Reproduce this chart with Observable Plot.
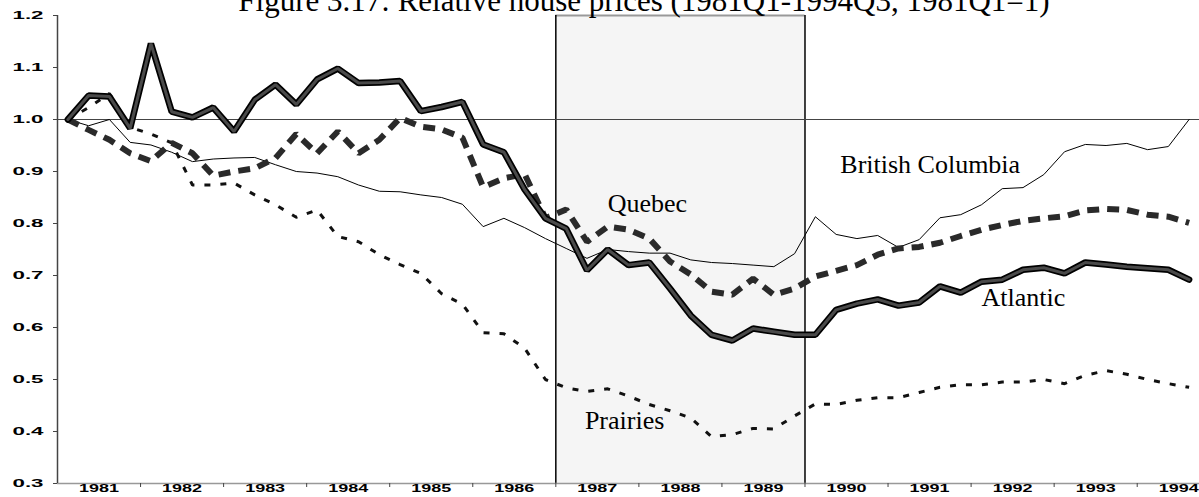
<!DOCTYPE html>
<html><head><meta charset="utf-8">
<script src="https://cdn.jsdelivr.net/npm/d3@7"></script>
<script src="https://cdn.jsdelivr.net/npm/@observablehq/plot@0.6"></script>
<style>
body{margin:0;background:#fff;}
#chart{position:relative;width:1199px;height:497px;overflow:hidden;background:#fff}
</style>
</head><body><div id="chart"></div>
<script>
const title = "Figure 3.17: Relative house prices (1981Q1-1994Q3, 1981Q1=1)";
const quarters = [
 "1981Q1","1981Q2","1981Q3","1981Q4","1982Q1","1982Q2","1982Q3","1982Q4",
 "1983Q1","1983Q2","1983Q3","1983Q4","1984Q1","1984Q2","1984Q3","1984Q4",
 "1985Q1","1985Q2","1985Q3","1985Q4","1986Q1","1986Q2","1986Q3","1986Q4",
 "1987Q1","1987Q2","1987Q3","1987Q4","1988Q1","1988Q2","1988Q3","1988Q4",
 "1989Q1","1989Q2","1989Q3","1989Q4","1990Q1","1990Q2","1990Q3","1990Q4",
 "1991Q1","1991Q2","1991Q3","1991Q4","1992Q1","1992Q2","1992Q3","1992Q4",
 "1993Q1","1993Q2","1993Q3","1993Q4","1994Q1","1994Q2","1994Q3"];
const years = [1981,1982,1983,1984,1985,1986,1987,1988,1989,1990,1991,1992,1993,1994];
const yTicks = [0.3,0.4,0.5,0.6,0.7,0.8,0.9,1.0,1.1,1.2];

const atlantic = [1.000,1.046,1.044,0.983,1.146,1.015,1.004,1.023,0.977,1.038,1.067,1.029,1.077,1.098,1.070,1.071,1.074,1.016,1.024,1.034,
 0.952,0.937,0.865,0.810,0.790,0.710,0.750,0.720,0.725,0.675,0.623,0.586,0.575,0.598,0.592,0.586,0.586,0.634,0.646,0.654,
 0.642,0.648,0.679,0.667,0.688,0.692,0.711,0.715,0.704,0.725,0.721,0.717,0.714,0.711,0.692];
const quebec = [1.000,0.980,0.961,0.935,0.920,0.955,0.935,0.892,0.900,0.906,0.926,0.972,0.935,0.977,0.935,0.961,1.003,0.986,0.981,0.965,
 0.870,0.887,0.895,0.810,0.827,0.765,0.794,0.788,0.771,0.727,0.702,0.669,0.663,0.694,0.663,0.675,0.698,0.709,0.720,0.740,
 0.752,0.755,0.763,0.776,0.788,0.797,0.805,0.810,0.814,0.825,0.828,0.826,0.817,0.813,0.801];
const prairies = [1.000,1.023,1.050,0.985,0.972,0.955,0.874,0.874,0.878,0.855,0.836,0.812,0.826,0.775,0.765,0.740,0.721,0.704,0.665,0.645,
 0.590,0.588,0.560,0.500,0.484,0.477,0.482,0.468,0.452,0.440,0.426,0.390,0.394,0.406,0.405,0.430,0.453,0.452,0.460,0.465,
 0.465,0.475,0.485,0.490,0.490,0.495,0.495,0.500,0.492,0.508,0.517,0.510,0.500,0.492,0.485];
const britishColumbia = [1.000,0.988,1.000,0.956,0.951,0.937,0.919,0.924,0.926,0.927,0.913,0.900,0.897,0.890,0.874,0.862,0.861,0.855,0.850,0.837,
 0.794,0.810,0.792,0.771,0.752,0.733,0.750,0.746,0.743,0.743,0.730,0.725,0.723,0.720,0.717,0.742,0.813,0.779,0.771,0.777,
 0.754,0.769,0.811,0.817,0.836,0.867,0.869,0.894,0.938,0.952,0.950,0.954,0.942,0.948,1.000];

const shadeFrom = "1987Q1", shadeTo = "1989Q4";
const labelNames = ["British Columbia","Quebec","Atlantic","Prairies"];
const labelQuarterPos = [37.2, 26.0, 44.0, 24.9];
const labelValuePos = [0.897, 0.822, 0.642, 0.404];

const rows = s => s.map((v,i)=>({q:i, v}));
const qi = q => quarters.indexOf(q);
const yearCenters = years.map(y=>qi(y+"Q1")+1.5);
const yearBounds = years.slice(1).map(y=>qi(y+"Q1")-0.5);
const labels = labelNames.map((n,i)=>({n, q:labelQuarterPos[i], v:labelValuePos[i]}));
const xMin = -0.5, xMax = quarters.length-0.5;
const yMin = d3.min(yTicks), yMax = d3.max(yTicks);

const axisFont = "'Liberation Sans', Arial, sans-serif";
const serif = "'Liberation Serif', 'Times New Roman', serif";

const plot = Plot.plot({
  width: 1199, height: 497,
  marginLeft: 57, marginRight: 0, marginTop: 15, marginBottom: 14,
  x: {domain: [xMin, xMax], axis: null, label: null},
  y: {domain: [yMin, yMax], axis: null, label: null},
  style: {background: "transparent", overflow: "visible"},
  marks: [
    Plot.rect([{x1: qi(shadeFrom)-0.5, x2: qi(shadeTo)+0.5}], {x1:"x1", x2:"x2", y1: yMin, y2: yMax, fill:"#f5f5f5"}),
    Plot.ruleY([yMax], {x1: qi(shadeFrom)-0.5, x2: qi(shadeTo)+0.5, stroke:"#999", strokeWidth:2}),
    Plot.ruleX([qi(shadeFrom)-0.5, qi(shadeTo)+0.5], {y1: yMin, y2: yMax, stroke:"#000", strokeWidth:1.5}),
    Plot.ruleY([1], {x1: xMin, x2: xMax, stroke:"#444", strokeWidth:1}),
    Plot.ruleY([yMin], {x1: xMin, x2: xMax, stroke:"#999", strokeWidth:1.5}),
    Plot.ruleX([xMin], {y1: yMin, y2: yMax, stroke:"#444", strokeWidth:1.5}),
    Plot.axisY({ticks: yTicks, label: null, tickSize: 4, tickPadding: 10, tickFormat: d=>d.toFixed(1), stroke:"#444",
      fontSize: 11, fontWeight: "bold", fontFamily: axisFont, fill:"#000"}),
    Plot.axisX({ticks: yearBounds, label: null, tickSize: 4, tickFormat: ()=> "", stroke:"#444"}),
    Plot.axisX({ticks: yearCenters, label: null, tickSize: 0, tickPadding: 1, tickFormat: (d,i)=> String(years[i]),
      fontSize: 11, fontWeight: "bold", fontFamily: axisFont, fill:"#000"}),
    Plot.line(rows(britishColumbia), {x:"q", y:"v", stroke:"#000", strokeWidth:1}),
    Plot.line(rows(prairies), {x:"q", y:"v", stroke:"#111", strokeWidth:3, strokeDasharray:"6,10", strokeLinecap:"butt", strokeLinejoin:"miter"}),
    Plot.line(rows(quebec), {x:"q", y:"v", stroke:"#2a2a2a", strokeWidth:6, strokeDasharray:"12,8", strokeLinecap:"butt", strokeLinejoin:"miter"}),
    Plot.line(rows(atlantic), {x:"q", y:"v", stroke:"#000", strokeWidth:6.5, strokeLinejoin:"miter"}),
    Plot.line(rows(atlantic), {x:"q", y:"v", stroke:"#4a4a4a", strokeWidth:3, strokeLinejoin:"miter"}),
    Plot.text(labels, {x:"q", y:"v", text:"n", textAnchor:"start", lineAnchor:"bottom", fontSize:26, fontFamily: serif, fill:"#000"})
  ]
});

const svg = d3.select(plot);
svg.selectAll("text").each(function(){
  const t = d3.select(this);
  const s = t.text();
  if (/^\d\.\d$/.test(s)) t.attr("textLength", 31).attr("lengthAdjust","spacingAndGlyphs");
  else if (/^\d{4}$/.test(s)) t.attr("textLength", 40).attr("lengthAdjust","spacingAndGlyphs");
});
svg.append("text").attr("x", 644).attr("y", 11).attr("text-anchor","middle")
  .style("font-family", serif).style("font-size","31px").attr("fill","#000").text(title);
document.getElementById("chart").appendChild(plot);
</script>
</body></html>
